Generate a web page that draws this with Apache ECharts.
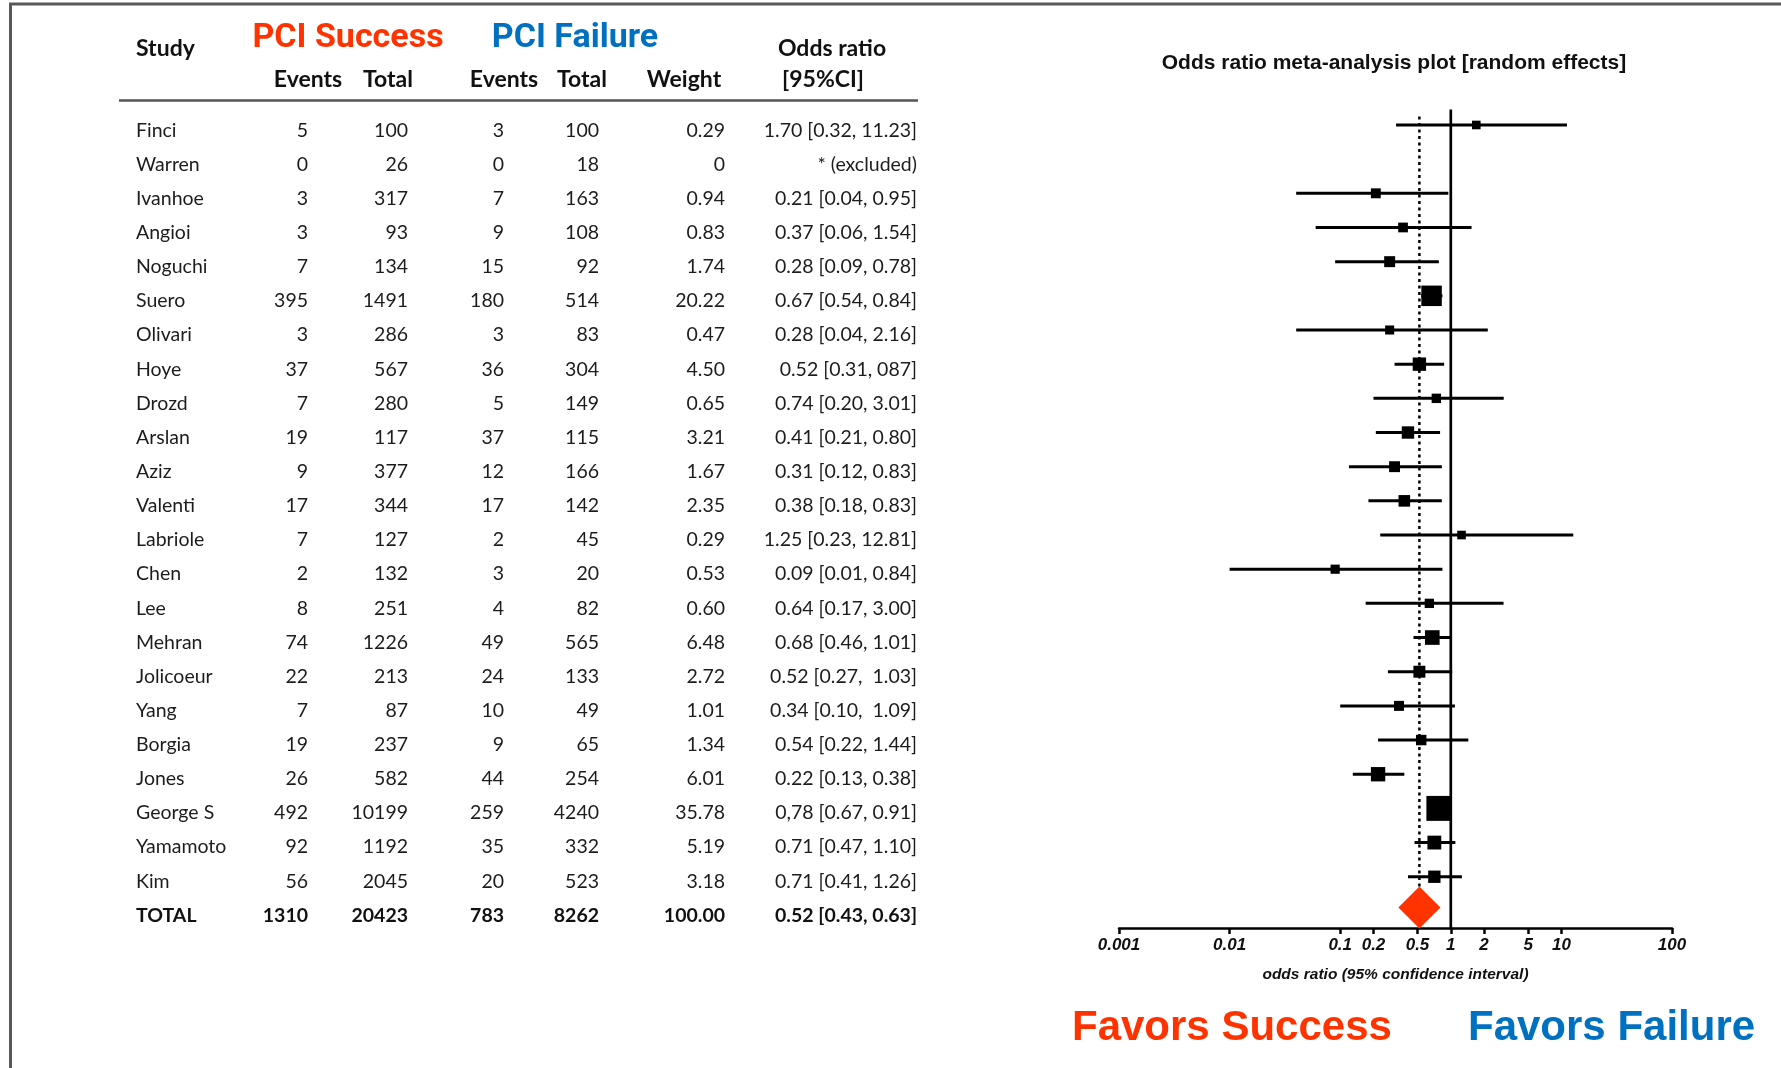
<!DOCTYPE html>
<html>
<head>
<meta charset="utf-8">
<script src="https://cdn.jsdelivr.net/npm/echarts@6/dist/echarts.min.js"></script>
<style>
html,body{margin:0;padding:0;background:#fff;}
#chart{width:1781px;height:1068px;}
</style>
</head>
<body>
<div id="chart"></div>
<script>
// ---------- DATA ----------
const studies = ['Finci','Warren','Ivanhoe','Angioi','Noguchi','Suero','Olivari','Hoye','Drozd','Arslan','Aziz','Valenti','Labriole','Chen','Lee','Mehran','Jolicoeur','Yang','Borgia','Jones','George S','Yamamoto','Kim','TOTAL'];
const successEvents = ['5','0','3','3','7','395','3','37','7','19','9','17','7','2','8','74','22','7','19','26','492','92','56','1310'];
const successTotal  = ['100','26','317','93','134','1491','286','567','280','117','377','344','127','132','251','1226','213','87','237','582','10199','1192','2045','20423'];
const failureEvents = ['3','0','7','9','15','180','3','36','5','37','12','17','2','3','4','49','24','10','9','44','259','35','20','783'];
const failureTotal  = ['100','18','163','108','92','514','83','304','149','115','166','142','45','20','82','565','133','49','65','254','4240','332','523','8262'];
const weightLabels  = ['0.29','0','0.94','0.83','1.74','20.22','0.47','4.50','0.65','3.21','1.67','2.35','0.29','0.53','0.60','6.48','2.72','1.01','1.34','6.01','35.78','5.19','3.18','100.00'];
const orLabels = ['1.70 [0.32, 11.23]','* (excluded)','0.21 [0.04, 0.95]','0.37 [0.06, 1.54]','0.28 [0.09, 0.78]','0.67 [0.54, 0.84]','0.28 [0.04, 2.16]','0.52 [0.31, 087]','0.74 [0.20, 3.01]','0.41 [0.21, 0.80]','0.31 [0.12, 0.83]','0.38 [0.18, 0.83]','1.25 [0.23, 12.81]','0.09 [0.01, 0.84]','0.64 [0.17, 3.00]','0.68 [0.46, 1.01]','0.52 [0.27,  1.03]','0.34 [0.10,  1.09]','0.54 [0.22, 1.44]','0.22 [0.13, 0.38]','0,78 [0.67, 0.91]','0.71 [0.47, 1.10]','0.71 [0.41, 1.26]','0.52 [0.43, 0.63]'];
// numeric odds ratios for the plot (null = excluded)
const orEst  = [1.70,null,0.21,0.37,0.28,0.67,0.28,0.52,0.74,0.41,0.31,0.38,1.25,0.09,0.64,0.68,0.52,0.34,0.54,0.22,0.78,0.71,0.71,0.52];
const ciLow  = [0.32,null,0.04,0.06,0.09,0.54,0.04,0.31,0.20,0.21,0.12,0.18,0.23,0.01,0.17,0.46,0.27,0.10,0.22,0.13,0.67,0.47,0.41,0.43];
const ciHigh = [11.23,null,0.95,1.54,0.78,0.84,2.16,0.87,3.01,0.80,0.83,0.83,12.81,0.84,3.00,1.01,1.03,1.09,1.44,0.38,0.91,1.10,1.26,0.63];
const axisTicks = [0.001, 0.01, 0.1, 0.2, 0.5, 1, 2, 5, 10, 100];
const nullOR = 1;

// ---------- derived ----------
const weights = weightLabels.map(Number);
const nRows = studies.length;
const totalIdx = nRows - 1;
const rowIdx = studies.map((_, i) => String(i));
const pooledOR = orEst[totalIdx];

const studyData = [];
for (let i = 0; i < totalIdx; i++) {
  if (orEst[i] == null) continue;
  studyData.push([orEst[i], ciLow[i], ciHigh[i], i, weights[i]]);
}

const BODY_FONT = 'Lato';
const TXT = '#1c1c1c';

function tableAxis(values, offset, align) {
  return {
    gridIndex: 1, type: 'category', data: rowIdx, inverse: true,
    position: 'left', offset: offset,
    axisLine: {show: false, onZero: false}, axisTick: {show: false}, splitLine: {show: false},
    axisLabel: {
      show: true, interval: 0, margin: 0, align: align || 'right',
      fontFamily: BODY_FONT, fontSize: 19.5, color: TXT,
      formatter: (v, i) => (i === totalIdx ? '{b|' + values[i] + '}' : values[i]),
      rich: {b: {fontFamily: BODY_FONT, fontSize: 19.5, fontWeight: 'bold', color: '#111'}}
    }
  };
}

const TABLE_LEFT = 930;
const colRight = {sEv: 308, sTot: 408, fEv: 504, fTot: 599, w: 725, or: 917, study: 136};

function headerText(text, x, y, font, fill, align) {
  return {type: 'text', x: x, y: y, silent: true,
    style: {text: text, font: font, fill: fill || '#111', align: align || 'center', verticalAlign: 'middle'}};
}
const HF = 'bold 23px Lato';

const option = {
  animation: false,
  backgroundColor: '#fff',
  grid: [
    {left: 1119, right: 109, top: 90.8, bottom: 140},
    {left: TABLE_LEFT, width: 10, top: 113.3, height: 819.2}
  ],
  xAxis: [
    {
      gridIndex: 0, type: 'log', logBase: 10, min: 0.001, max: 100,
      axisLine: {show: true, onZero: false, lineStyle: {color: '#000', width: 2.5}},
      axisTick: {show: true, length: 6, customValues: axisTicks, lineStyle: {color: '#000', width: 2.5}},
      axisLabel: {show: true, customValues: axisTicks, formatter: v => String(+(+v).toPrecision(3)),
        fontFamily: 'Liberation Sans', fontStyle: 'italic', fontWeight: 'bold', fontSize: 17, color: '#111', margin: 9},
      splitLine: {show: false}, minorTick: {show: false},
      name: 'odds ratio (95% confidence interval)', nameLocation: 'middle', nameGap: 39,
      nameTextStyle: {fontFamily: 'Liberation Sans', fontStyle: 'italic', fontWeight: 'bold', fontSize: 15.5, color: '#111'}
    },
    {gridIndex: 1, type: 'value', show: false}
  ],
  yAxis: [
    {gridIndex: 0, type: 'value', inverse: true, min: -1, max: 23.5, show: false},
    tableAxis(studies, TABLE_LEFT - colRight.study, 'left'),
    tableAxis(successEvents, TABLE_LEFT - colRight.sEv),
    tableAxis(successTotal, TABLE_LEFT - colRight.sTot),
    tableAxis(failureEvents, TABLE_LEFT - colRight.fEv),
    tableAxis(failureTotal, TABLE_LEFT - colRight.fTot),
    tableAxis(weightLabels, TABLE_LEFT - colRight.w),
    tableAxis(orLabels, TABLE_LEFT - colRight.or)
  ],
  series: [
    { // null line (OR = 1)
      type: 'line', xAxisIndex: 0, yAxisIndex: 0, symbol: 'none', silent: true,
      data: [[nullOR, -0.45], [nullOR, 23.5]],
      lineStyle: {color: '#000', width: 2.7}, z: 2
    },
    { // pooled estimate dotted line
      type: 'line', xAxisIndex: 0, yAxisIndex: 0, symbol: 'none', silent: true,
      data: [[pooledOR, -0.25], [pooledOR, totalIdx - 0.65]],
      lineStyle: {color: '#000', width: 2.5, type: [3, 3.5]}, z: 2
    },
    { // study CI lines + weight squares
      type: 'custom', xAxisIndex: 0, yAxisIndex: 0, silent: true, z: 3,
      encode: {x: [0, 1, 2], y: 3},
      data: studyData,
      renderItem: function (params, api) {
        const est = api.value(0), lo = api.value(1), hi = api.value(2), row = api.value(3), w = api.value(4);
        const pLo = api.coord([lo, row]), pHi = api.coord([hi, row]), pE = api.coord([est, row]);
        const s = 7 + 3 * Math.sqrt(w);
        return {type: 'group', children: [
          {type: 'line', shape: {x1: pLo[0], y1: pLo[1], x2: pHi[0], y2: pHi[1]}, style: {stroke: '#000', lineWidth: 3}},
          {type: 'rect', shape: {x: pE[0] - s / 2, y: pE[1] - s / 2, width: s, height: s}, style: {fill: '#000'}}
        ]};
      }
    },
    { // pooled diamond
      type: 'scatter', xAxisIndex: 0, yAxisIndex: 0, silent: true, z: 4,
      symbol: 'diamond', symbolSize: [42, 42],
      itemStyle: {color: '#FF3300', opacity: 1},
      data: [[pooledOR, totalIdx - 0.1]]
    }
  ],
  graphic: [
    // frame
    {type: 'line', silent: true, shape: {x1: 9, y1: 4, x2: 1781, y2: 4}, style: {stroke: '#585858', lineWidth: 3}},
    {type: 'line', silent: true, shape: {x1: 10.5, y1: 3, x2: 10.5, y2: 1068}, style: {stroke: '#585858', lineWidth: 3}},
    // table header rule
    {type: 'line', silent: true, shape: {x1: 119, y1: 100.5, x2: 918, y2: 100.5}, style: {stroke: '#555', lineWidth: 2.5}},
    headerText('Study', 136, 48.5, HF, '#111', 'left'),
    headerText('PCI Success', 348, 38, 'bold 34px Roboto', '#FF3300'),
    headerText('PCI Failure', 575, 38, 'bold 34px Roboto', '#0070C0'),
    headerText('Events', 308, 80, HF),
    headerText('Total', 388, 80, HF),
    headerText('Events', 504, 80, HF),
    headerText('Total', 582, 80, HF),
    headerText('Weight', 684, 80, HF),
    headerText('Odds ratio', 832, 48.5, HF),
    headerText('[95%CI]', 823, 80, HF),
    // plot title
    headerText('Odds ratio meta-analysis plot [random effects]', 1394, 63, 'bold 21px "Liberation Sans"', '#111'),
    // favours labels
    headerText('Favors Success', 1072, 1028, 'bold 42px "Liberation Sans"', '#FF3300', 'left'),
    headerText('Favors Failure', 1468, 1028, 'bold 42px "Liberation Sans"', '#0070C0', 'left')
  ]
};

const chart = echarts.init(document.getElementById('chart'), null, {renderer: 'canvas', width: 1781, height: 1068});
chart.setOption(option);
</script>
</body>
</html>
